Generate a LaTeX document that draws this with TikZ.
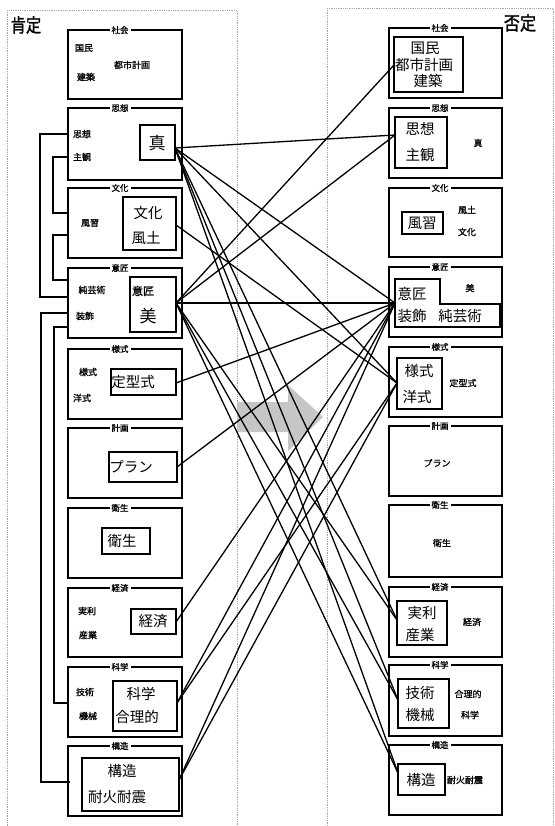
\documentclass[tikz,border=0pt]{standalone}
\usepackage{fontspec}
\newfontfamily\cjk{Noto Sans CJK JP}
\newfontfamily\cjkb{Noto Sans CJK JP}[FakeBold=1.2]
\begin{document}
\begin{tikzpicture}[x=1pt,y=-1pt,
  outer/.style={draw, line width=1.6pt},
  inner/.style={draw, line width=1.4pt},
  hdr/.style={fill=white, inner sep=2pt, font=\cjkb\fontsize{8.5}{9}\selectfont},
  sm/.style={inner sep=0pt, font=\cjkb\fontsize{9}{10}\selectfont},
  big/.style={inner sep=0pt, font=\cjk\fontsize{14.5}{15}\selectfont},
  ttl/.style={inner sep=0pt, font=\cjkb\fontsize{19}{20}\selectfont},
  conn/.style={line width=1.3pt},
  brk/.style={line width=1.4pt},
  panel/.style={draw=gray!70, densely dotted, line width=0.8pt}]
\useasboundingbox (0,0) rectangle (554,826);
% panels
\draw[panel] (7,10) rectangle (237,830);
\draw[panel] (327,8) rectangle (553,830);
% gray arrow
\fill[gray!45] (237,402) -- (288,402) -- (288,385) -- (323,417) -- (288,451) -- (288,432) -- (237,432) -- cycle;
% titles
\node[ttl, xscale=0.8] (tl) at (26,25) {肯定};
\node[ttl, xscale=0.85] (tr) at (520,23) {否定};
% ===== left outer boxes =====
\foreach \n/\ya/\yb/\h in {1/30/99/社会,2/108/180/思想,3/188/258/文化,4/268/338/意匠,5/349/419/様式,6/428/498/計画,7/508/578/衛生,8/588/657/経済,9/667/737/科学,10/746/816/構造}{
  \draw[outer] (68,\ya) rectangle (182,\yb);
  \node[hdr] (lh\n) at (120,\ya) {\h};
}
% ===== right outer boxes =====
\foreach \n/\ya/\yb/\h in {1/28/98/社会,2/108/178/思想,3/188/257/文化,4/267/337/意匠,5/347/417/様式,6/426/496/計画,7/505/577/衛生,8/587/657/経済,9/665/736/科学,10/745/815/構造}{
  \draw[outer] (389,\ya) rectangle (502,\yb);
  \node[hdr] (rh\n) at (440,\ya) {\h};
}
% ===== left contents =====
\node[sm] (l1a) at (84,48) {国民};
\node[sm] (l1b) at (86,77) {建築};
\node[sm] (l1c) at (132,65) {都市計画};
\node[sm] (l2a) at (82,134) {思想};
\node[sm] (l2b) at (82,157) {主観};
\draw[inner] (140,125) rectangle (175,160);
\node[big, font=\cjk\fontsize{17}{17}\selectfont] (l2c) at (157,143) {真};
\node[sm] (l3a) at (90,223) {風習};
\draw[inner] (123,197) rectangle (176,250);
\node[big] (l3b) at (148,213) {文化};
\node[big] (l3c) at (146,238) {風土};
\node[sm] (l4a) at (92,290) {純芸術};
\node[sm] (l4b) at (85,316) {装飾};
\draw[inner] (130,277) rectangle (176,332);
\node[sm, font=\cjkb\fontsize{11}{11}\selectfont] (l4c) at (143,291) {意匠};
\node[big, font=\cjk\fontsize{17}{17}\selectfont] (l4d) at (148,316) {美};
\node[sm] (l5a) at (88,372) {様式};
\node[sm] (l5b) at (82,398) {洋式};
\draw[inner] (111,369) rectangle (176,395);
\node[big] (l5c) at (133,382) {定型式};
\draw[inner] (109,452) rectangle (177,482);
\node[big] (l6a) at (131,467) {プラン};
\draw[inner] (102,528) rectangle (150,554);
\node[big] (l7a) at (122,541) {衛生};
\node[sm] (l8a) at (87,611) {実利};
\node[sm] (l8b) at (88,635) {産業};
\draw[inner] (131,609) rectangle (176,634);
\node[big] (l8c) at (153,621) {経済};
\node[sm] (l9a) at (85,692) {技術};
\node[sm] (l9b) at (88,716) {機械};
\draw[inner] (113,681) rectangle (177,731);
\node[big] (l9c) at (141,694) {科学};
\node[big] (l9d) at (137,717) {合理的};
\draw[inner] (82,758) rectangle (179,811);
\node[big] (l10a) at (122,771) {構造};
\node[big] (l10b) at (117,797) {耐火耐震};
% ===== right contents =====
\draw[inner] (394,37) rectangle (463,92);
\node[big] (r1a) at (425,48) {国民};
\node[big] (r1b) at (424,65) {都市計画};
\node[big] (r1c) at (428,81) {建築};
\draw[inner] (395,117) rectangle (447,168);
\node[big] (r2a) at (420,129) {思想};
\node[big] (r2b) at (420,155) {主観};
\node[sm] (r2c) at (478,143) {真};
\draw[inner] (402,212) rectangle (443,234);
\node[big] (r3a) at (422,223) {風習};
\node[sm] (r3b) at (467,210) {風土};
\node[sm] (r3c) at (467,232) {文化};
\draw[inner] (395,279) -- (440,279) -- (440,304) -- (500,304) -- (500,327) -- (395,327) -- cycle;
\node[big] (r4a) at (412,294) {意匠};
\node[big] (r4b) at (412,316) {装飾};
\node[big] (r4c) at (460,316) {純芸術};
\node[sm] (r4d) at (470,288) {美};
\draw[inner] (397,358) rectangle (442,409);
\node[big] (r5a) at (419,371) {様式};
\node[big] (r5b) at (417,397) {洋式};
\node[sm] (r5c) at (463,383) {定型式};
\node[sm] (r6a) at (437,463) {プラン};
\node[sm] (r7a) at (442,543) {衛生};
\draw[inner] (397,601) rectangle (447,645);
\node[big] (r8a) at (422,613) {実利};
\node[big] (r8b) at (420,635) {産業};
\node[sm] (r8c) at (472,622) {経済};
\draw[inner] (398,679) rectangle (449,728);
\node[big] (r9a) at (420,693) {技術};
\node[big] (r9b) at (420,715) {機械};
\node[sm] (r9c) at (468,694) {合理的};
\node[sm] (r9d) at (470,715) {科学};
\draw[inner] (398,764) rectangle (445,795);
\node[big] (r10a) at (421,780) {構造};
\node[sm] (r10b) at (465,780) {耐火耐震};
% ===== left brackets =====
\draw[brk] (68,134) -- (40,134) -- (40,297) -- (68,297);
\draw[brk] (68,157) -- (53,157) -- (53,213) -- (68,213);
\draw[brk] (68,235) -- (53,235) -- (53,280) -- (68,280);
\draw[brk] (68,313) -- (41,313) -- (41,782) -- (70,782);
\draw[brk] (68,327) -- (54,327) -- (54,703) -- (68,703);
% ===== connection points =====
\coordinate (pL2) at (175,148);
\coordinate (pL3) at (176,225);
\coordinate (pL4) at (176,303);
\coordinate (pL5) at (176,383);
\coordinate (pL6) at (177,467);
\coordinate (pL8) at (176,622);
\coordinate (pL9) at (177,703);
\coordinate (pL10) at (179,780);
\coordinate (pR1) at (394,65);
\coordinate (pR2) at (395,135);
\coordinate (pR4) at (395,303);
\coordinate (pR5) at (397,383);
\coordinate (pR8) at (397,620);
\coordinate (pR9) at (398,700);
\coordinate (pR10) at (398,773);
% ===== connectors =====
\foreach \t in {pR2,pR4,pR5,pR8,pR9,pR10}{\draw[conn] (pL2) -- (\t);}
\foreach \t in {pR1,pR2,pR4,pR8,pR9,pR10}{\draw[conn] (pL4) -- (\t);}
\draw[conn] (pL3) -- (pR5);
\draw[conn] (pL5) -- (pR4);
\draw[conn] (pL6) -- (pR4);
\draw[conn] (pL8) -- (pR4);
\draw[conn] (pL9) -- (pR4);
\draw[conn] (pL9) -- (pR5);
\draw[conn] (pL10) -- (pR4);
\draw[conn] (pL10) -- (pR5);
\end{tikzpicture}
\end{document}
